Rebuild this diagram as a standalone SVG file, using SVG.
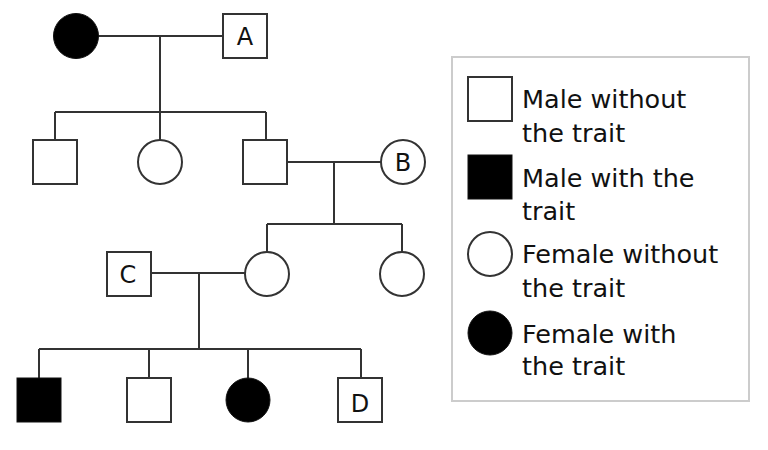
<svg xmlns="http://www.w3.org/2000/svg" width="768" height="450" viewBox="0 0 768 450">
<style>
.n{fill:#fff;stroke:#333;stroke-width:2}
.f{fill:#000;stroke:#111;stroke-width:1}
.c{fill:none;stroke:#333;stroke-width:2}
.lbl{font-family:"DejaVu Sans",sans-serif;font-size:24px;fill:#111;text-anchor:middle}
.lt{font-family:"DejaVu Sans",sans-serif;font-size:25.5px;fill:#111}
</style>
<rect width="768" height="450" fill="#fff"/>
<g id="connectors">
<path class="c" d="M98 36H223M160 36V112M55 112H266M55 112V140M160 112V140M266 112V140"/>
<path class="c" d="M287 162H381M334 162V224M267 224H402M267 224V252M402 224V252"/>
<path class="c" d="M151 273H245M199 273V349M39 349H361M39 349V378M149 349V378M248 349V378M361 349V378"/>
</g>
<g id="n-gen1-female"><circle class="f" cx="76" cy="36" r="22.5"/></g>
<g id="n-A"><rect class="n" x="223" y="14" width="44" height="44"/><text class="lbl" x="245" y="45">A</text></g>
<g id="n-gen2-son1"><rect class="n" x="33" y="140" width="44" height="44"/></g>
<g id="n-gen2-daughter"><circle class="n" cx="160" cy="162" r="22"/></g>
<g id="n-gen2-son2"><rect class="n" x="243" y="140" width="44" height="44"/></g>
<g id="n-B"><circle class="n" cx="403" cy="162" r="22"/><text class="lbl" x="403" y="171">B</text></g>
<g id="n-C"><rect class="n" x="107" y="252" width="44" height="44"/><text class="lbl" x="128" y="283">C</text></g>
<g id="n-gen3-daughter1"><circle class="n" cx="267" cy="274" r="22"/></g>
<g id="n-gen3-daughter2"><circle class="n" cx="402" cy="274" r="22"/></g>
<g id="n-gen4-son1"><rect class="f" x="17" y="378" width="44" height="44"/></g>
<g id="n-gen4-son2"><rect class="n" x="127" y="378" width="44" height="44"/></g>
<g id="n-gen4-daughter"><circle class="f" cx="248" cy="400" r="22"/></g>
<g id="n-D"><rect class="n" x="338" y="378" width="44" height="44"/><text class="lbl" x="360" y="412">D</text></g>
<g id="legend">
<rect x="452" y="57" width="297" height="344" fill="#fff" stroke="#ccc" stroke-width="2"/>
<rect class="n" x="468" y="77" width="44" height="44"/>
<rect class="f" x="468" y="155" width="44" height="44"/>
<circle class="n" cx="490" cy="254" r="22"/>
<circle class="f" cx="490" cy="333" r="22"/>
<text class="lt" x="522" y="108">Male without</text>
<text class="lt" x="522" y="142">the trait</text>
<text class="lt" x="522" y="187">Male with the</text>
<text class="lt" x="522" y="220">trait</text>
<text class="lt" x="522" y="263">Female without</text>
<text class="lt" x="522" y="297">the trait</text>
<text class="lt" x="522" y="343">Female with</text>
<text class="lt" x="522" y="375">the trait</text>
</g>
</svg>
